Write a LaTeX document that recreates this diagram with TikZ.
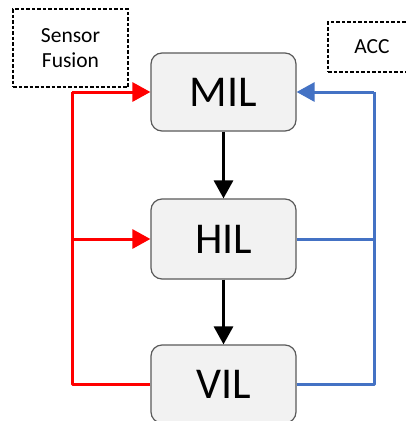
\documentclass[tikz,border=0pt]{standalone}
\usepackage{fontspec}
\setmainfont{Carlito}
\usetikzlibrary{arrows.meta}
\definecolor{boxfill}{HTML}{F2F2F2}
\definecolor{boxline}{HTML}{5A5A5A}
\definecolor{accblue}{HTML}{4472C4}
\tikzset{
  stage/.style={draw=boxline, line width=1.2pt, fill=boxfill, rounded corners=11pt,
    minimum width=145pt, minimum height=78pt, inner sep=0pt,
    font=\fontsize{44}{44}\selectfont},
  tag/.style={draw=black, line width=1.3pt, dash pattern=on 3.5pt off 2pt,
    inner sep=0pt, align=center, font=\fontsize{21.5}{25}\selectfont},
  tip/.style={-{Triangle[length=18pt,width=19pt]}},
  wire/.style={line width=3pt},
}
\begin{document}
\begin{tikzpicture}[x=1pt, y=-1pt]
  \clip (0,0) rectangle (406,421);
  \fill[white] (0,0) rectangle (406,421);

  % tags
  \node[tag, minimum width=115pt, minimum height=78pt] (sf) at (70.5,48) {Sensor\\Fusion};
  \node[tag, minimum width=88pt, minimum height=50pt] (acc) at (372,47) {ACC};

  % stages
  \node[stage] (mil) at (223.5,92) {MIL};
  \node[stage, minimum height=80pt] (hil) at (223.5,239) {HIL};
  \node[stage] (vil) at (223.5,384) {VIL};

  % forward chain
  \draw[wire, tip, black] (mil.south) -- (hil.north);
  \draw[wire, tip, black] (hil.south) -- (vil.north);

  % red feedback path
  \coordinate (rb) at (72,384);
  \coordinate (rm) at (72,239);
  \coordinate (rt) at (72,92);
  \draw[wire, red, line join=round] (vil.west) -- (rb) -- (rt);
  \draw[wire, tip, red] (rt) -- (mil.west);
  \draw[wire, tip, red] (rm) -- (hil.west);

  % blue feedback path
  \coordinate (bb) at (374,384);
  \coordinate (bm) at (374,239);
  \coordinate (bt) at (374,92);
  \draw[wire, accblue, line join=round] (vil.east) -- (bb) -- (bt);
  \draw[wire, accblue] (hil.east) -- (bm);
  \draw[wire, tip, accblue] (bt) -- (mil.east);
\end{tikzpicture}
\end{document}
